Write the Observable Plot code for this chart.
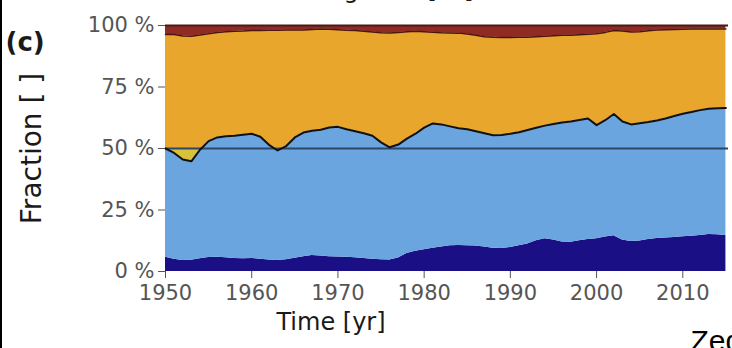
<!DOCTYPE html>
<html><head><meta charset="utf-8">
<script src="https://cdn.jsdelivr.net/npm/d3@7"></script>
<script src="https://cdn.jsdelivr.net/npm/@observablehq/plot@0.6"></script>
<style>
body{margin:0;background:#fff;overflow:hidden}
#wrap{position:relative;width:732px;height:348px;overflow:hidden}
#edge{position:absolute;left:0;top:0;width:2px;height:348px;background:#000;z-index:2}
</style></head><body><div id="wrap"><div id="edge"></div></div>
<script>
const years = d3.range(1950, 2016);
// upper edge of the dark-blue band (%)
const darkBlueTop = [5.8,5.0,4.5,4.6,5.2,5.7,5.8,5.6,5.3,5.2,
  5.3,5.0,4.7,4.5,4.8,5.4,6.0,6.5,6.3,6.0,
  5.9,5.8,5.6,5.3,5.0,4.8,4.7,5.5,7.3,8.2,
  8.8,9.5,10.0,10.5,10.6,10.5,10.4,10.0,9.5,9.3,
  9.8,10.5,11.2,12.5,13.3,12.8,12.0,11.9,12.5,13.0,
  13.3,14.0,14.5,12.8,12.2,12.4,13.0,13.4,13.6,13.8,
  14.1,14.3,14.6,15.0,14.9,14.6];
// upper edge of the light-blue band (%)
const lightBlueTop = [50.0,48.2,45.5,44.8,49.5,53.0,54.5,55.0,55.2,55.6,
  56.0,54.8,51.5,49.2,51.0,54.5,56.5,57.2,57.6,58.5,
  58.8,57.8,57.0,56.2,55.2,52.5,50.5,51.6,54.0,56.0,
  58.5,60.2,59.8,59.0,58.2,57.8,57.0,56.2,55.4,55.5,
  56.0,56.6,57.5,58.4,59.3,60.0,60.6,61.0,61.6,62.2,
  59.5,61.5,64.0,61.0,59.8,60.3,60.8,61.4,62.2,63.2,
  64.1,64.8,65.6,66.2,66.4,66.5];
// upper edge of the orange band (%)
const orangeTop = [96.3,96.3,95.7,95.6,96.1,96.6,97.2,97.5,97.7,97.8,
  98.0,98.0,98.1,98.1,98.2,98.2,98.2,98.4,98.6,98.5,
  98.3,98.1,98.0,97.7,97.4,97.1,97.0,97.2,97.5,97.7,
  97.5,97.3,97.1,97.0,96.9,96.5,96.0,95.4,95.2,95.1,
  95.1,95.2,95.2,95.4,95.6,95.8,96.0,96.0,96.2,96.4,
  96.6,97.2,98.0,97.8,97.4,97.5,97.9,98.2,98.3,98.4,
  98.5,98.6,98.6,98.6,98.6,98.6];
const yTicks = [0, 25, 50, 75, 100];
const yTickLabels = ["0 %", "25 %", "50 %", "75 %", "100 %"];
const xTicks = [1950, 1960, 1970, 1980, 1990, 2000, 2010];
const reference = 50;

const rows = years.map((year, i) => ({year, a: darkBlueTop[i], b: lightBlueTop[i], c: orangeTop[i]}));

const chart = Plot.plot({
  width: 732, height: 348,
  marginLeft: 165, marginRight: 4, marginTop: 25, marginBottom: 77,
  style: {fontFamily: "'DejaVu Sans', sans-serif", background: "transparent", color: "#555"},
  x: {domain: [1950, 2015.3]},
  y: {domain: [0, 100]},
  marks: [
    Plot.areaY(rows, {x: "year", y1: 0, y2: "a", fill: "#1b0f86"}),
    Plot.areaY(rows, {x: "year", y1: "a", y2: "b", fill: "#6aa5e0"}),
    Plot.areaY(rows, {x: "year", y1: "b", y2: "c", fill: "#e9a62c"}),
    Plot.areaY(rows, {x: "year", y1: "c", y2: 100, fill: "#922a24"}),
    Plot.areaY(rows, {x: "year", y1: "b", y2: d => Math.max(d.b, reference), fill: "#d8c23a"}),
    Plot.ruleY([reference], {stroke: "#2c4866", strokeWidth: 2.2}),
    Plot.lineY(rows, {x: "year", y: "b", stroke: "#111", strokeWidth: 2}),
    Plot.lineY(rows, {x: "year", y: "c", stroke: "#4a1512", strokeWidth: 1.5}),
    Plot.ruleY([100], {stroke: "#4a1a18", strokeWidth: 2}),
    Plot.axisY({ticks: yTicks, tickFormat: d => yTickLabels[yTicks.indexOf(d)], fontSize: 21, tickSize: 7, tickPadding: 4, label: null}),
    Plot.axisX({ticks: xTicks, tickFormat: d => String(d), fontSize: 21, tickSize: 7, tickPadding: 7, label: null}),
    Plot.text(["Fraction [ ]"], {frameAnchor: "left", rotate: -90, dx: -133, textAnchor: "middle", fontSize: 28, fill: "#1a1a1a"}),
    Plot.text(["Time [yr]"], {frameAnchor: "bottom", dy: 58, dx: -116, fontSize: 24, fill: "#1a1a1a"}),
    Plot.text(["(c)"], {frameAnchor: "top-left", dx: -160, dy: 7, fontSize: 26, fontWeight: "bold", textAnchor: "start", fill: "#1a1a1a"}),
    Plot.text(["Longitude [°E]"], {frameAnchor: "top", dx: -60, dy: -28, fontSize: 24, lineAnchor: "bottom", fill: "#1a1a1a"}),
    Plot.text(["Zederberg"], {frameAnchor: "bottom-left", dx: 525, dy: 70, fontSize: 30, textAnchor: "start", lineAnchor: "middle", fill: "#000", fontFamily: "Arial, 'Liberation Sans', sans-serif"})
  ]
});
document.getElementById("wrap").appendChild(chart);
</script></body></html>
